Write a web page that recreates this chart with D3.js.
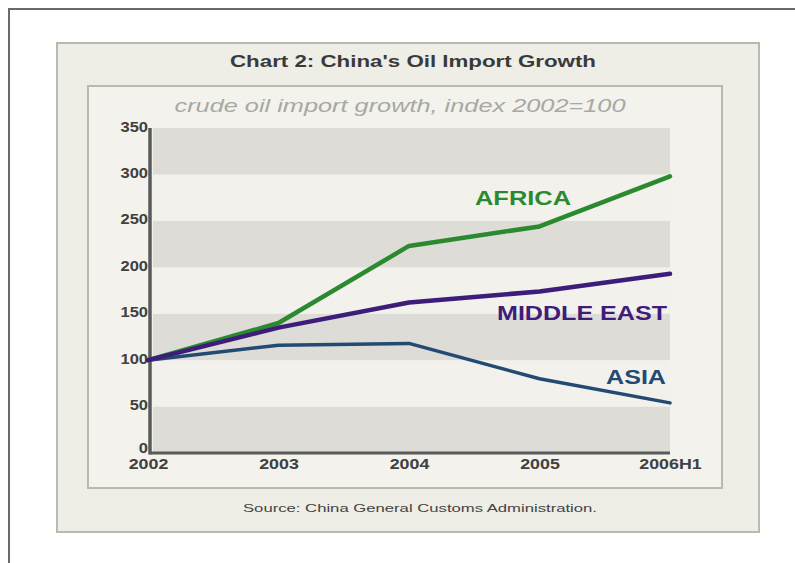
<!DOCTYPE html>
<html>
<head>
<meta charset="utf-8">
<script src="https://cdn.jsdelivr.net/npm/d3@7"></script>
<style>
  html, body { margin: 0; padding: 0; background: #ffffff; }
  svg { display: block; }
</style>
</head>
<body>
<svg id="chart" width="795" height="563"></svg>
<script>
// Crude oil import growth by region, index 2002 = 100
const years = ["2002", "2003", "2004", "2005", "2006H1"];
const africa = [100, 140, 223, 244, 298];
const middleEast = [100, 135, 162, 174, 193];
const asia = [100, 116, 118, 80, 54];
const yTicks = [0, 50, 100, 150, 200, 250, 300, 350];

const seriesList = [
  { name: "AFRICA", values: africa, color: "#2b8a2f", labelX: 523, labelY: 198, width: 96 },
  { name: "MIDDLE EAST", values: middleEast, color: "#3e1c7a", labelX: 582, labelY: 313, width: 170 },
  { name: "ASIA", values: asia, color: "#234a72", labelX: 636, labelY: 377, width: 60 }
];

const svg = d3.select("#chart");
const font = "Arial, 'Liberation Sans', Helvetica, sans-serif";

// widen a text element by a factor, keeping its anchor in place
function stretch(sel, factor) {
  sel.each(function () {
    const len = this.getComputedTextLength();
    d3.select(this).attr("textLength", len * factor).attr("lengthAdjust", "spacingAndGlyphs");
  });
}

// page frame
svg.append("rect").attr("x", 9).attr("y", 9).attr("width", 800).attr("height", 570)
  .attr("fill", "#ffffff").attr("stroke", "#6a6a6a").attr("stroke-width", 2);

// outer card
svg.append("rect").attr("x", 57).attr("y", 43).attr("width", 702).attr("height", 489)
  .attr("fill", "#eeede6").attr("stroke", "#b9b8b1").attr("stroke-width", 2);

// inner card
svg.append("rect").attr("x", 88).attr("y", 86).attr("width", 634).attr("height", 402)
  .attr("fill", "#f3f2ed").attr("stroke", "#b9b8b1").attr("stroke-width", 2);

svg.append("text").attr("x", 413).attr("y", 67).attr("text-anchor", "middle")
  .attr("font-family", font).attr("font-weight", "bold").attr("font-size", 16)
  .attr("fill", "#3a3a3a").attr("textLength", 366).attr("lengthAdjust", "spacingAndGlyphs")
  .text("Chart 2: China's Oil Import Growth");

svg.append("text").attr("x", 400).attr("y", 112).attr("text-anchor", "middle")
  .attr("font-family", font).attr("font-style", "italic").attr("font-size", 18)
  .attr("fill", "#a8a8a4").attr("textLength", 451).attr("lengthAdjust", "spacingAndGlyphs")
  .text("crude oil import growth, index 2002=100");

svg.append("text").attr("x", 420).attr("y", 512).attr("text-anchor", "middle")
  .attr("font-family", font).attr("font-size", 11.5)
  .attr("fill", "#444444").attr("textLength", 354).attr("lengthAdjust", "spacingAndGlyphs")
  .text("Source: China General Customs Administration.");

// scales
const x = d3.scalePoint().domain(years).range([148, 670]);
const y = d3.scaleLinear().domain([0, 350]).range([453, 128]);

// alternating horizontal bands
const bands = d3.range(0, 350, 50);
svg.append("g").selectAll("rect").data(bands).join("rect")
  .attr("x", 153).attr("width", 670 - 153)
  .attr("y", d => y(d + 50)).attr("height", d => y(d) - y(d + 50))
  .attr("fill", d => (d / 50) % 2 === 0 ? "#dddcd7" : "#f2f1ec");

// y axis
const yAxis = svg.append("g").attr("transform", "translate(150,0)")
  .call(d3.axisLeft(y).tickValues(yTicks).tickSize(0).tickPadding(2));
yAxis.select(".domain").attr("stroke", "#5a5a58").attr("stroke-width", 3.5)
  .attr("d", `M0,${y(350)}V${y(0) + 1.5}`);
yAxis.selectAll("text").attr("font-family", font).attr("font-weight", "bold")
  .attr("font-size", 15).attr("fill", "#404040")
  .attr("dy", d => d === 0 ? "-0.05em" : "0.2em")
  .call(stretch, 1.1);

// x axis
const xAxis = svg.append("g").attr("transform", `translate(0,${y(0)})`)
  .call(d3.axisBottom(x).tickSize(0).tickPadding(7));
xAxis.select(".domain").attr("stroke", "#5a5a58").attr("stroke-width", 3)
  .attr("d", "M150,0H670");
xAxis.selectAll("text").attr("font-family", font).attr("font-weight", "bold")
  .attr("font-size", 15.5).attr("fill", "#404040").attr("dy", "0.6em")
  .call(stretch, 1.15);

// lines
const line = d3.line().x((d, i) => x(years[i])).y(d => y(d));
const drawOrder = [seriesList[2], seriesList[0], seriesList[1]];
svg.append("g").selectAll("path").data(drawOrder).join("path")
  .attr("d", s => line(s.values))
  .attr("fill", "none").attr("stroke", s => s.color)
  .attr("stroke-width", s => s.name === "ASIA" ? 3.5 : 4.5)
  .attr("stroke-linejoin", "round").attr("stroke-linecap", "round");

// series labels
svg.append("g").selectAll("text").data(seriesList).join("text")
  .attr("x", s => s.labelX).attr("y", s => s.labelY).attr("dy", "0.36em")
  .attr("text-anchor", "middle")
  .attr("font-family", font).attr("font-weight", "bold").attr("font-size", 20)
  .attr("fill", s => s.color)
  .attr("textLength", s => s.width).attr("lengthAdjust", "spacingAndGlyphs")
  .text(s => s.name);
</script>
</body>
</html>
